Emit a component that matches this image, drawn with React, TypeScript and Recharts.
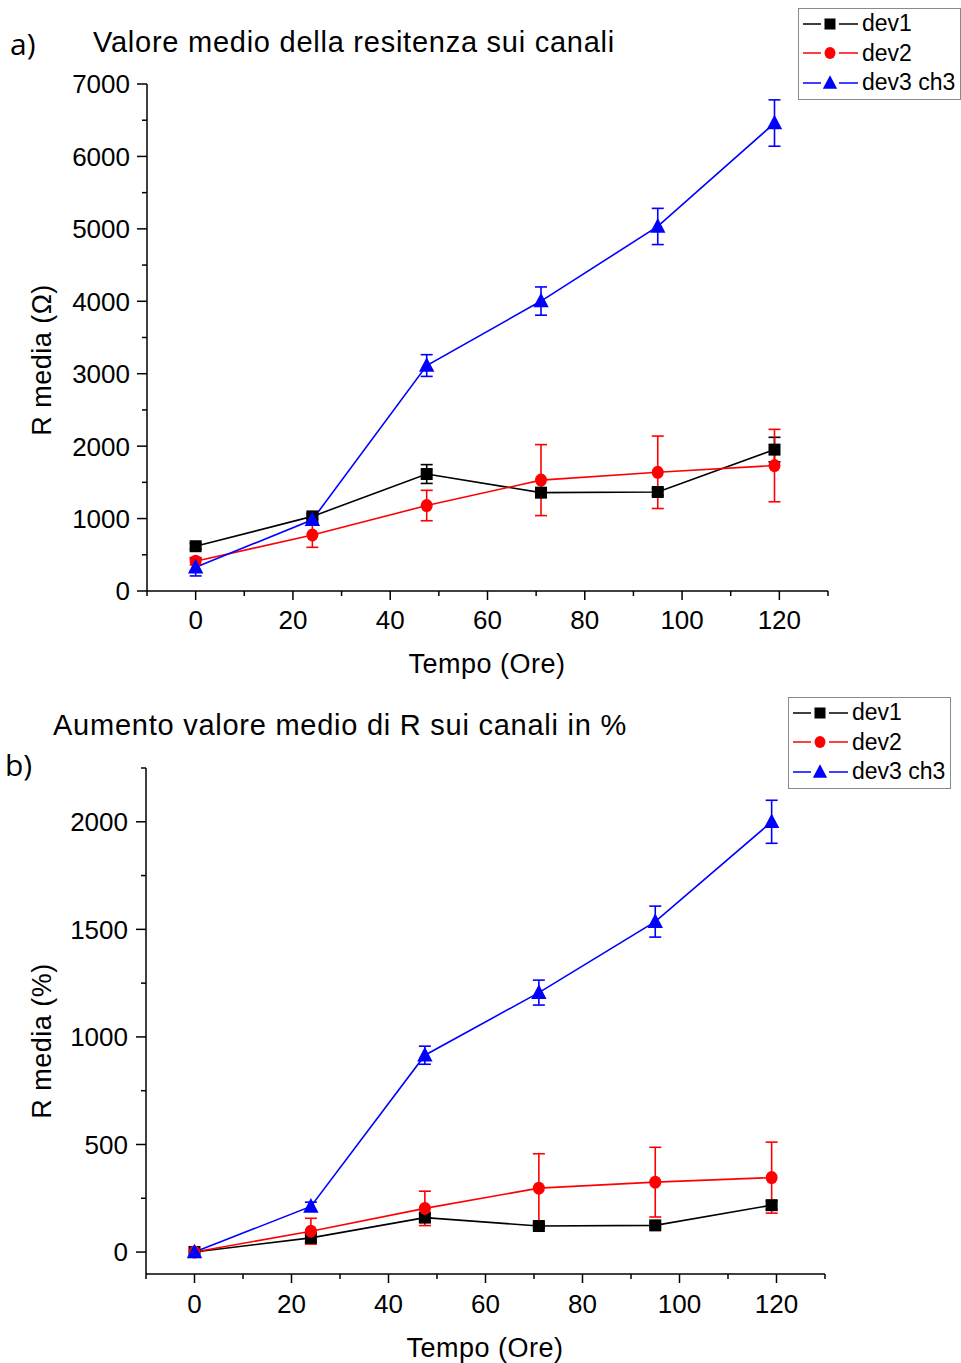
import React from 'react';
import { LineChart, Line, XAxis, YAxis, ErrorBar, Legend } from 'recharts';

// ---- data ----
const TIMES = [0, 24, 47.5, 71, 95, 119];

const R_DEV1 = [618, 1030, 1615, 1358, 1367, 1952];
const R_DEV1_ERR = [40, 40, 130, 60, 50, 170];
const R_DEV2 = [412, 773, 1180, 1531, 1639, 1732];
const R_DEV2_ERR = [50, 170, 210, 490, 500, 500];
const R_DEV3 = [328, 983, 3113, 4003, 5033, 6461];
const R_DEV3_ERR = [120, 60, 150, 195, 250, 320];

const P_DEV1 = [0, 66, 160, 121, 124, 218];
const P_DEV1_ERR = [0, 20, 15, 10, 10, 20];
const P_DEV2 = [0, 97, 203, 297, 325, 346];
const P_DEV2_ERR = [0, 60, 80, 160, 162, 165];
const P_DEV3 = [0, 212, 915, 1206, 1536, 2000];
const P_DEV3_ERR = [0, 20, 42, 58, 72, 100];

const X_TICKS = [-10, 0, 10, 20, 30, 40, 50, 60, 70, 80, 90, 100, 110, 120, 130];
const R_TICKS = [0, 500, 1000, 1500, 2000, 2500, 3000, 3500, 4000, 4500, 5000, 5500, 6000, 6500, 7000];
const P_TICKS = [0, 250, 500, 750, 1000, 1250, 1500, 1750, 2000, 2250];

const SERIES_NAMES = ['dev1', 'dev2', 'dev3 ch3'];
const SERIES_COLORS = ['#000000', '#ff0000', '#0000ff'];

const TITLE_A = 'Valore medio della resitenza sui canali';
const TITLE_B = 'Aumento valore medio di R sui canali in %';
const YLABEL_A = 'R media (\u03A9)';
const YLABEL_B = 'R media (%)';
const XLABEL = 'Tempo (Ore)';

const rData = TIMES.map((t, i) => ({
  t,
  dev1: R_DEV1[i], dev1Err: R_DEV1_ERR[i],
  dev2: R_DEV2[i], dev2Err: R_DEV2_ERR[i],
  dev3: R_DEV3[i], dev3Err: R_DEV3_ERR[i],
}));
const pData = TIMES.map((t, i) => ({
  t,
  dev1: P_DEV1[i], dev1Err: P_DEV1_ERR[i],
  dev2: P_DEV2[i], dev2Err: P_DEV2_ERR[i],
  dev3: P_DEV3[i], dev3Err: P_DEV3_ERR[i],
}));

const FONT = '"Liberation Sans", Arial, sans-serif';
const FS = 26;

// ---- markers ----
const Marker = ({ kind, cx, cy, color, size }: any) => {
  if (cx == null || cy == null) return null;
  if (kind === 0) {
    const s = size;
    return <rect x={cx - s / 2} y={cy - s / 2} width={s} height={s} fill={color} />;
  }
  if (kind === 1) {
    return <ellipse cx={cx} cy={cy} rx={size / 2} ry={size / 2 + 0.5} fill={color} />;
  }
  const h = size * 1.0;
  const w = size * 1.1;
  return (
    <polygon
      points={`${cx},${cy - h * 0.6} ${cx - w / 2},${cy + h * 0.45} ${cx + w / 2},${cy + h * 0.45}`}
      fill={color}
    />
  );
};

const makeDot = (kind: number) => (p: any) => (
  <Marker key={`dot-${kind}-${p.index}`} kind={kind} cx={p.cx} cy={p.cy} color={SERIES_COLORS[kind]} size={kind === 2 ? 14 : 12} />
);

// ---- ticks ----
const makeYTick = (major: number, gap: number) => (props: any) => {
  const { x, y, payload } = props;
  const v = payload.value;
  const isMajor = v % major === 0;
  return (
    <g>
      <line x1={x} x2={x - (isMajor ? 10 : 5)} y1={y} y2={y} stroke="#000" strokeWidth={1.5} />
      {isMajor && (
        <text x={x - gap} y={y} dy="0.36em" textAnchor="end" fontSize={FS} fontFamily={FONT} fill="#000">
          {v}
        </text>
      )}
    </g>
  );
};

const makeXTick = (dist: number) => (props: any) => {
  const { x, y, payload } = props;
  const v = payload.value;
  const isMajor = v % 20 === 0;
  return (
    <g>
      <line x1={x} x2={x} y1={y} y2={y + (isMajor ? 9 : 5)} stroke="#000" strokeWidth={1.5} />
      {isMajor && v >= 0 && v <= 120 && (
        <text x={x} y={y + dist} dy="0.36em" textAnchor="middle" fontSize={FS} fontFamily={FONT} fill="#000">
          {v}
        </text>
      )}
    </g>
  );
};

// ---- legend ----
const LegendBox = () => (
  <div
    style={{
      border: '1px solid #8a8a8a',
      background: '#fff',
      width: 161,
      padding: '0 0 1px 0',
      fontFamily: FONT,
      fontSize: 23,
      lineHeight: '29.5px',
      color: '#000',
    }}
  >
    {SERIES_NAMES.map((n, i) => (
      <div key={n} style={{ display: 'flex', alignItems: 'center', height: 29.5 }}>
        <svg width={60} height={20} style={{ display: 'block', marginLeft: 2 }}>
          <line x1={2} x2={20} y1={10} y2={10} stroke={SERIES_COLORS[i]} strokeWidth={1.5} />
          <line x1={38} x2={57} y1={10} y2={10} stroke={SERIES_COLORS[i]} strokeWidth={1.5} />
          <Marker kind={i} cx={29} cy={10} color={SERIES_COLORS[i]} size={i === 2 ? 13 : 11} />
        </svg>
        <span style={{ marginLeft: 1, whiteSpace: 'nowrap' }}>{n}</span>
      </div>
    ))}
  </div>
);

const textStyle: React.CSSProperties = {
  position: 'absolute',
  fontFamily: FONT,
  fontSize: FS,
  color: '#000',
  whiteSpace: 'nowrap',
  lineHeight: 1,
};

const Panel = ({ data, ticks, domain, major, margin, height, legendPos, gapY, distX }: any) => (
  <LineChart width={961} height={height} data={data} margin={margin}>
    <XAxis
      dataKey="t"
      type="number"
      domain={[-10, 130]}
      ticks={X_TICKS}
      allowDataOverflow
      axisLine={{ stroke: '#000', strokeWidth: 1.5 }}
      tickLine={false}
      tickSize={0}
      tickMargin={0}
      tick={makeXTick(distX)}
      height={30}
      interval={0}
    />
    <YAxis
      type="number"
      domain={domain}
      ticks={ticks}
      allowDataOverflow
      axisLine={{ stroke: '#000', strokeWidth: 1.5 }}
      tickLine={false}
      tickSize={0}
      tickMargin={0}
      tick={makeYTick(major, gapY)}
      width={60}
      interval={0}
    />
    <Legend
      layout="vertical"
      align="center"
      verticalAlign="middle"
      content={() => <LegendBox />}
      wrapperStyle={{ position: 'absolute', left: legendPos[0], top: legendPos[1], width: 163 }}
    />
    <Line dataKey="dev1" stroke={SERIES_COLORS[0]} strokeWidth={1.6} dot={makeDot(0)} activeDot={false} isAnimationActive={false} legendType="none">
      <ErrorBar dataKey="dev1Err" direction="y" width={6} stroke={SERIES_COLORS[0]} strokeWidth={1.6} isAnimationActive={false} />
    </Line>
    <Line dataKey="dev2" stroke={SERIES_COLORS[1]} strokeWidth={1.6} dot={makeDot(1)} activeDot={false} isAnimationActive={false} legendType="none">
      <ErrorBar dataKey="dev2Err" direction="y" width={6} stroke={SERIES_COLORS[1]} strokeWidth={1.6} isAnimationActive={false} />
    </Line>
    <Line dataKey="dev3" stroke={SERIES_COLORS[2]} strokeWidth={1.6} dot={makeDot(2)} activeDot={false} isAnimationActive={false} legendType="none">
      <ErrorBar dataKey="dev3Err" direction="y" width={6} stroke={SERIES_COLORS[2]} strokeWidth={1.6} isAnimationActive={false} />
    </Line>
  </LineChart>
);

const titleStyle: React.CSSProperties = { ...textStyle, fontSize: 29, letterSpacing: 0.75 };
const axisLabelStyle: React.CSSProperties = { ...textStyle, fontSize: 27, letterSpacing: 0.5 };
const panelLetterStyle: React.CSSProperties = { ...textStyle, fontFamily: '"Open Sans", Lato, sans-serif', fontSize: 30 };

export default function App() {
  return (
    <div style={{ position: 'absolute', left: 0, top: 0, width: 961, height: 1363, background: '#fff', overflow: 'hidden' }}>
      {/* Panel a */}
      <div style={{ position: 'absolute', left: 0, top: 0 }}>
        <Panel
          data={rData}
          ticks={R_TICKS}
          domain={[0, 7000]}
          major={1000}
          height={690}
          margin={{ top: 84, right: 133, bottom: 69, left: 87 }}
          legendPos={[798, 8]}
          gapY={17}
          distX={29}
        />
      </div>
      {/* Panel b */}
      <div style={{ position: 'absolute', left: 0, top: 690 }}>
        <Panel
          data={pData}
          ticks={P_TICKS}
          domain={[-102, 2250]}
          major={500}
          height={673}
          margin={{ top: 78, right: 136, bottom: 59, left: 86 }}
          legendPos={[788, 7]}
          gapY={18}
          distX={30}
        />
      </div>

      <div style={{ ...panelLetterStyle, left: 10, top: 29 }}>a)</div>
      <div style={{ ...titleStyle, left: 93, top: 28 }}>{TITLE_A}</div>
      <div style={{ ...panelLetterStyle, left: 5, top: 750 }}>b)</div>
      <div style={{ ...titleStyle, left: 53, top: 711 }}>{TITLE_B}</div>

      <div style={{ ...axisLabelStyle, left: 42, top: 360, transform: 'translate(-50%, -50%) rotate(-90deg)' }}>{YLABEL_A}</div>
      <div style={{ ...axisLabelStyle, left: 42, top: 1041, transform: 'translate(-50%, -50%) rotate(-90deg)' }}>{YLABEL_B}</div>

      <div style={{ ...axisLabelStyle, left: 487, top: 664, transform: 'translate(-50%, -50%)' }}>{XLABEL}</div>
      <div style={{ ...axisLabelStyle, left: 485, top: 1348, transform: 'translate(-50%, -50%)' }}>{XLABEL}</div>
    </div>
  );
}
